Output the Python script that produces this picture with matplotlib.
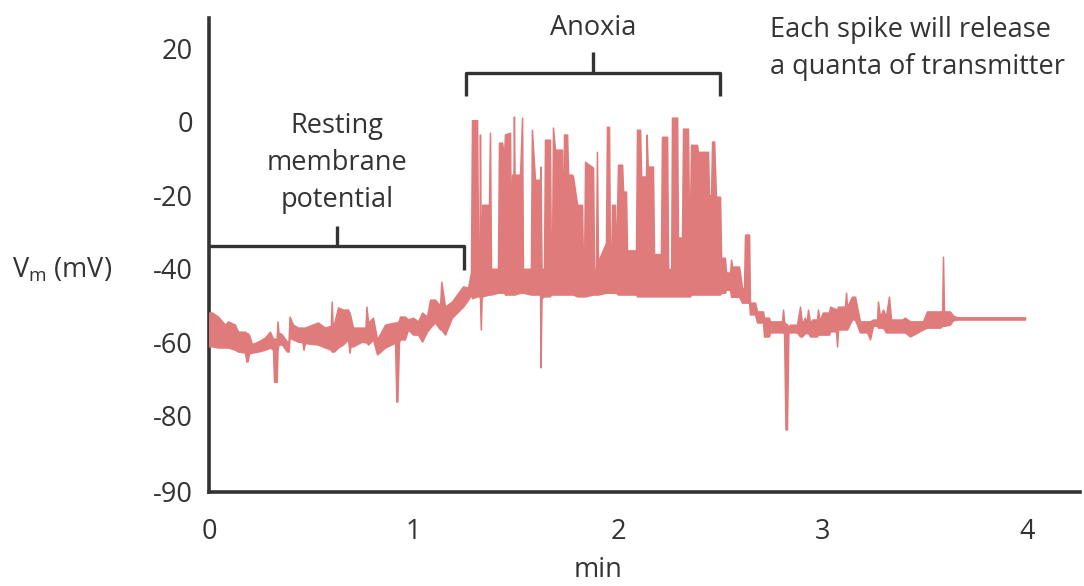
import matplotlib
matplotlib.use("Agg")
import matplotlib.pyplot as plt
import numpy as np

plt.rcParams['font.family'] = ['Open Sans', 'DejaVu Sans']
plt.rcParams['mathtext.fontset'] = 'custom'
plt.rcParams['mathtext.rm'] = 'Open Sans'
plt.rcParams['axes.unicode_minus'] = False

# ---- data: (time [min], lower envelope [mV], upper envelope [mV]) ----
rest_samples = [
    (0.000, -61.1, -51.9), (0.015, -61.1, -51.9), (0.044, -61.4, -53.0), (0.078, -61.4, -55.2),
    (0.093, -61.4, -54.3), (0.127, -62.0, -55.2), (0.142, -62.5, -57.1), (0.176, -62.8, -57.1),
    (0.183, -65.2, -57.5), (0.188, -65.2, -57.5), (0.196, -63.0, -58.0), (0.210, -62.8, -60.5),
    (0.240, -62.5, -59.8), (0.274, -62.0, -58.7), (0.298, -61.4, -57.1), (0.313, -62.0, -59.0),
    (0.318, -70.7, -59.0), (0.331, -70.7, -59.0), (0.335, -62.0, -54.3), (0.340, -60.6, -57.5),
    (0.347, -60.6, -57.5), (0.357, -60.6, -57.9), (0.381, -62.5, -59.8), (0.389, -62.5, -59.8),
    (0.394, -58.7, -53.0), (0.411, -59.2, -55.2), (0.435, -59.8, -56.0), (0.457, -60.0, -56.0),
    (0.462, -62.0, -56.0), (0.469, -60.2, -56.0), (0.533, -60.6, -54.6), (0.567, -61.4, -56.0),
    (0.596, -62.0, -55.5), (0.600, -62.5, -48.9), (0.604, -62.5, -55.0), (0.611, -62.5, -55.0),
    (0.631, -61.4, -50.5), (0.655, -60.6, -51.1), (0.680, -59.2, -51.1), (0.687, -62.8, -52.0),
    (0.692, -61.1, -53.0), (0.704, -61.1, -56.0), (0.748, -59.8, -56.0), (0.765, -60.0, -56.0),
    (0.770, -60.0, -50.3), (0.778, -60.6, -54.6), (0.802, -59.2, -53.3), (0.822, -63.3, -59.2),
    (0.861, -61.4, -55.2), (0.910, -60.1, -54.6), (0.916, -76.1, -54.6), (0.921, -76.1, -54.6),
    (0.929, -60.0, -54.0), (0.934, -59.2, -53.0), (0.958, -59.2, -53.0), (0.973, -56.5, -53.8),
    (0.998, -57.9, -53.3), (1.022, -57.9, -54.3), (1.042, -59.8, -51.9), (1.066, -57.1, -53.0),
    (1.081, -56.0, -48.4), (1.105, -54.6, -48.4), (1.130, -56.5, -50.0), (1.136, -56.5, -43.5),
    (1.154, -57.9, -50.3), (1.188, -53.3, -48.9), (1.242, -50.3, -44.8), (1.267, -48.4, -45.1),
]

anoxia_samples = [
    (1.281, -47.0, -41.0), (1.286, -48.0, 0.4), (1.311, -47.5, 0.4), (1.316, -47.5, -40.0),
    (1.322, -47.5, -40.0), (1.325, -48.0, -3.5), (1.329, -56.5, -38.0), (1.333, -48.0, -38.0),
    (1.336, -47.5, -22.6), (1.369, -47.0, -22.6), (1.374, -47.0, -3.0), (1.379, -47.0, -40.0),
    (1.413, -46.5, -40.0), (1.418, -46.5, -5.7), (1.433, -46.5, -5.7), (1.443, -46.5, -9.5),
    (1.447, -47.0, -3.5), (1.472, -47.0, -3.0), (1.477, -47.0, -40.0), (1.482, -47.0, -14.4),
    (1.489, -47.0, -14.4), (1.491, -47.0, 1.4), (1.494, -47.0, -14.4), (1.521, -46.5, -14.4),
    (1.531, -46.5, 1.1), (1.535, -46.5, -40.0), (1.574, -47.0, -40.0), (1.579, -47.0, -2.2),
    (1.594, -47.0, -15.8), (1.619, -47.0, -15.8), (1.621, -66.8, -12.2), (1.626, -48.0, -40.0),
    (1.638, -47.5, -40.0), (1.643, -47.5, -4.9), (1.667, -47.5, -4.9), (1.672, -47.0, -40.0),
    (1.677, -47.0, -40.0), (1.682, -47.0, -1.6), (1.692, -47.0, -7.6), (1.726, -47.0, -7.6),
    (1.731, -47.0, -40.0), (1.736, -47.0, -3.5), (1.751, -47.0, -3.5), (1.756, -47.0, -14.4),
    (1.775, -47.0, -14.4), (1.780, -47.0, -14.9), (1.800, -47.5, -22.6), (1.824, -47.5, -22.6),
    (1.829, -47.5, -40.0), (1.834, -47.5, -40.0), (1.839, -47.5, -10.9), (1.878, -47.0, -12.5),
    (1.883, -47.0, -40.0), (1.892, -47.0, -40.0), (1.897, -47.0, -8.2), (1.902, -47.0, -38.0),
    (1.941, -46.5, -33.0), (1.946, -46.5, -1.4), (1.956, -46.5, -1.4), (1.961, -46.5, -40.0),
    (1.966, -46.5, -40.0), (1.971, -46.5, -22.6), (1.985, -46.5, -22.6), (1.990, -46.5, -40.0),
    (2.000, -47.0, -11.7), (2.020, -47.0, -11.7), (2.025, -47.0, -19.0), (2.039, -47.0, -19.0),
    (2.044, -47.0, -35.0), (2.088, -47.0, -35.0), (2.093, -47.5, -2.2), (2.108, -47.5, -2.2),
    (2.113, -47.5, -14.9), (2.137, -47.5, -14.9), (2.140, -47.5, -3.5), (2.145, -47.5, -12.2),
    (2.171, -47.5, -12.2), (2.176, -47.5, -36.0), (2.210, -47.5, -36.0), (2.215, -47.5, -4.1),
    (2.240, -47.5, -4.1), (2.245, -47.5, -40.0), (2.260, -47.5, -40.0), (2.264, -47.5, 1.1),
    (2.289, -47.5, 1.1), (2.293, -47.5, -31.5), (2.313, -47.5, -31.5), (2.318, -47.5, -1.9),
    (2.342, -47.5, -1.9), (2.347, -47.5, -25.8), (2.352, -47.5, -25.8), (2.357, -47.0, -6.3),
    (2.386, -47.0, -6.3), (2.391, -47.0, -8.2), (2.440, -47.0, -8.2), (2.445, -47.0, -20.0),
    (2.455, -47.0, -20.0), (2.460, -47.0, -5.4), (2.470, -47.0, -5.4), (2.479, -47.0, -20.4),
    (2.499, -47.0, -20.4), (2.504, -46.5, -37.0), (2.523, -46.5, -37.0), (2.528, -45.7, -41.0),
    (2.548, -45.7, -41.0), (2.553, -47.6, -37.5), (2.558, -47.6, -39.4), (2.592, -47.6, -39.4),
    (2.606, -49.2, -45.0), (2.616, -49.2, -46.0), (2.621, -49.2, -30.7), (2.641, -49.2, -30.7),
]

recovery_samples = [
    (2.645, -52.4, -49.2), (2.670, -52.4, -49.2), (2.680, -54.6, -51.6), (2.709, -54.6, -51.6),
    (2.714, -58.4, -53.3), (2.738, -58.4, -53.3), (2.743, -57.3, -54.3), (2.802, -57.3, -54.3),
    (2.807, -57.3, -51.1), (2.812, -57.3, -54.3), (2.819, -83.7, -55.0), (2.826, -83.7, -55.0),
    (2.833, -57.3, -56.0), (2.841, -57.3, -55.2), (2.875, -57.3, -55.2), (2.890, -58.4, -50.3),
    (2.900, -58.4, -55.0), (2.914, -57.5, -53.3), (2.922, -57.5, -55.0), (2.929, -57.5, -51.1),
    (2.940, -58.4, -55.0), (2.949, -58.4, -53.8), (2.973, -58.4, -53.8), (2.978, -57.9, -51.1),
    (2.985, -57.9, -54.0), (3.002, -57.9, -51.9), (3.032, -57.9, -51.9), (3.037, -57.0, -50.3),
    (3.066, -57.0, -51.0), (3.071, -61.1, -51.0), (3.076, -56.5, -50.3), (3.110, -56.5, -50.3),
    (3.115, -56.5, -46.5), (3.120, -56.5, -50.3), (3.144, -53.8, -47.6), (3.159, -53.8, -47.6),
    (3.183, -57.3, -54.3), (3.218, -57.3, -54.3), (3.232, -59.2, -54.3), (3.247, -55.5, -53.8),
    (3.267, -55.5, -53.8), (3.271, -56.0, -48.9), (3.281, -56.0, -53.0), (3.296, -56.0, -51.1),
    (3.310, -57.3, -53.0), (3.325, -57.3, -47.6), (3.335, -57.3, -53.8), (3.389, -57.3, -53.8),
    (3.403, -57.3, -53.3), (3.428, -58.4, -54.3), (3.491, -56.5, -54.3), (3.511, -56.0, -51.6),
    (3.575, -56.0, -51.6), (3.585, -55.5, -51.6), (3.589, -55.5, -36.7), (3.594, -55.5, -51.6),
    (3.623, -55.2, -51.6), (3.638, -54.0, -52.7), (3.658, -53.8, -53.2), (3.990, -53.8, -53.2),
]

# phases for annotation brackets (min)
rest_phase = (0.0, 1.247)
anoxia_phase = (1.257, 2.499)

xtick_values = [0, 1, 2, 3, 4]
ytick_values = [20, 0, -20, -40, -60, -80, -100.7]
ytick_labels = ['20', '0', '-20', '-40', '-60', '-80', '-90']

trace_color = '#e07b7b'
ink = '#333333'
fs = 19.5

fig = plt.figure(figsize=(10.84, 5.86), dpi=100)
ax = fig.add_axes([209 / 1084, 1 - 492 / 586, 871 / 1084, 474 / 586])
ax.set_xlim(0, 4.259)
ax.set_ylim(-100.7, 28.2)

samples = rest_samples + anoxia_samples + recovery_samples
t = np.array([s[0] for s in samples])
lo = np.array([s[1] for s in samples])
hi = np.array([s[2] for s in samples])
ax.fill_between(t, lo, hi, color=trace_color, linewidth=1.1, edgecolor=trace_color, zorder=3)

for side in ['top', 'right']:
    ax.spines[side].set_visible(False)
for side in ['left', 'bottom']:
    ax.spines[side].set_color(ink)
    ax.spines[side].set_linewidth(2.6)

ax.set_xticks(xtick_values)
ax.set_xticklabels([str(v) for v in xtick_values])
ax.set_yticks(ytick_values)
ax.set_yticklabels(ytick_labels)
ax.tick_params(axis='both', length=0, labelsize=fs, colors=ink)
ax.tick_params(axis='y', pad=11.5)
ax.tick_params(axis='x', pad=19)

# brackets
bl = dict(color=ink, linewidth=2.4, solid_capstyle='butt', clip_on=False, zorder=2)
ax.plot([rest_phase[0], rest_phase[1], rest_phase[1]], [-33.7, -33.7, -40.2], **bl)
mid_r = (rest_phase[0] + rest_phase[1]) / 2 + 0.003
ax.plot([mid_r, mid_r], [-33.7, -28.3], **bl)
ax.plot([anoxia_phase[0], anoxia_phase[0], anoxia_phase[1], anoxia_phase[1]],
        [7.1, 13.3, 13.3, 7.1], **bl)
mid_a = (anoxia_phase[0] + anoxia_phase[1]) / 2
ax.plot([mid_a, mid_a], [13.3, 19.0], **bl)

ax.text(mid_r, -11.2, 'Resting\nmembrane\npotential', ha='center', va='center',
        fontsize=fs, color=ink, linespacing=1.42)
ax.text(mid_a, 25.6, 'Anoxia', ha='center', va='center', fontsize=fs, color=ink, clip_on=False)
ax.text(2.743, 19.9, 'Each spike will release\na quanta of transmitter', ha='left', va='center',
        fontsize=fs, color=ink, linespacing=1.42, clip_on=False)

fig.text(62 / 1084, 1 - 270 / 586, r'V$_{\mathrm{m}}$ (mV)', ha='center', va='center',
         fontsize=fs, color=ink)
fig.text(598 / 1084, 1 - 570 / 586, 'min', ha='center', va='center', fontsize=fs, color=ink)

fig.savefig('out.png', dpi=100)
